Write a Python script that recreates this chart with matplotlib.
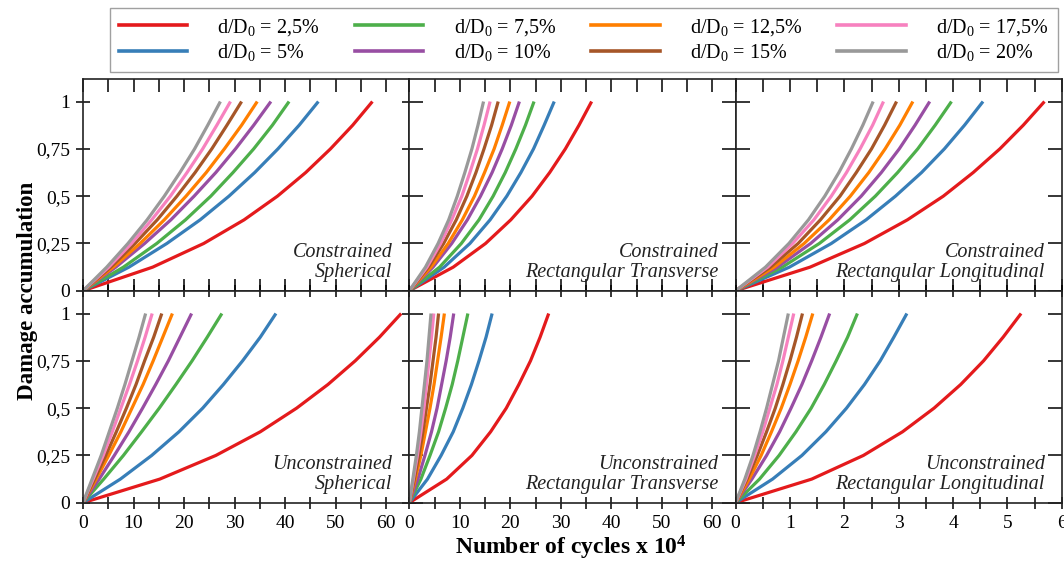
import matplotlib
matplotlib.use('Agg')
import matplotlib.pyplot as plt
from matplotlib.lines import Line2D
from matplotlib.ticker import MultipleLocator, FuncFormatter

plt.rcParams['font.family'] = 'Liberation Serif'
plt.rcParams['mathtext.fontset'] = 'custom'
plt.rcParams['mathtext.rm'] = 'Liberation Serif'
plt.rcParams['mathtext.it'] = 'Liberation Serif:italic'
plt.rcParams['mathtext.bf'] = 'Liberation Serif:bold'

damage = [0, 0.125, 0.25, 0.375, 0.5, 0.625, 0.75, 0.875, 1]
ratios = ['2,5', '5', '7,5', '10', '12,5', '15', '17,5', '20']
colors = ['#e41a1c', '#377eb8', '#4daf4a', '#984ea3',
          '#ff7f00', '#a65628', '#f781bf', '#999999']

# cycles x 10^4, one list per d/D0 (2.5% ... 20%)
cycles_con_sph = [
    [0, 13.8, 23.9, 31.9, 38.5, 44.1, 49.0, 53.4, 57.3],
    [0, 9.1, 16.6, 23.2, 28.9, 34.0, 38.6, 42.8, 46.6],
    [0, 8.0, 14.6, 20.3, 25.3, 29.7, 33.8, 37.5, 40.8],
    [0, 6.5, 12.2, 17.4, 22.0, 26.3, 30.2, 33.8, 37.2],
    [0, 6.0, 11.3, 16.1, 20.4, 24.4, 28.0, 31.4, 34.5],
    [0, 5.5, 10.3, 14.7, 18.6, 22.2, 25.5, 28.5, 31.4],
    [0, 5.1, 9.6, 13.6, 17.3, 20.6, 23.7, 26.5, 29.2],
    [0, 4.7, 8.9, 12.7, 16.1, 19.2, 22.1, 24.7, 27.2],
]
cycles_con_rt = [
    [0, 8.7, 15.1, 20.1, 24.3, 27.8, 30.9, 33.6, 36.1],
    [0, 6.9, 12.0, 16.0, 19.3, 22.1, 24.6, 26.7, 28.7],
    [0, 6.0, 10.3, 13.8, 16.6, 19.0, 21.1, 23.0, 24.7],
    [0, 4.7, 8.4, 11.5, 14.1, 16.4, 18.4, 20.2, 21.8],
    [0, 4.3, 7.7, 10.5, 12.9, 14.9, 16.8, 18.4, 19.9],
    [0, 3.8, 6.8, 9.3, 11.4, 13.2, 14.8, 16.3, 17.6],
    [0, 3.5, 6.2, 8.4, 10.4, 12.0, 13.5, 14.8, 16.0],
    [0, 3.2, 5.7, 7.8, 9.5, 11.0, 12.4, 13.6, 14.7],
]
cycles_con_rl = [
    [0, 1.37, 2.37, 3.16, 3.82, 4.37, 4.86, 5.29, 5.68],
    [0, 0.99, 1.76, 2.40, 2.94, 3.42, 3.84, 4.21, 4.55],
    [0, 0.86, 1.54, 2.10, 2.57, 2.98, 3.35, 3.67, 3.97],
    [0, 0.77, 1.38, 1.88, 2.31, 2.68, 3.01, 3.30, 3.57],
    [0, 0.71, 1.26, 1.72, 2.11, 2.45, 2.75, 3.02, 3.26],
    [0, 0.64, 1.15, 1.56, 1.92, 2.22, 2.50, 2.74, 2.96],
    [0, 0.59, 1.05, 1.44, 1.76, 2.04, 2.29, 2.52, 2.72],
    [0, 0.55, 0.98, 1.34, 1.64, 1.90, 2.13, 2.34, 2.53],
]
cycles_unc_sph = [
    [0, 15.2, 26.3, 35.1, 42.3, 48.5, 53.9, 58.7, 63.0],
    [0, 7.4, 13.6, 19.0, 23.7, 27.8, 31.6, 35.1, 38.2],
    [0, 4.1, 8.0, 11.6, 15.1, 18.4, 21.6, 24.6, 27.5],
    [0, 3.2, 6.2, 9.1, 11.8, 14.4, 16.9, 19.2, 21.5],
    [0, 2.6, 5.1, 7.5, 9.7, 11.9, 13.9, 15.8, 17.7],
    [0, 2.3, 4.5, 6.6, 8.6, 10.5, 12.2, 14.0, 15.6],
    [0, 2.0, 4.0, 5.8, 7.5, 9.2, 10.8, 12.3, 13.7],
    [0, 1.8, 3.6, 5.2, 6.8, 8.3, 9.7, 11.1, 12.4],
]
cycles_unc_rt = [
    [0, 7.4, 12.4, 16.1, 19.2, 21.7, 24.0, 25.9, 27.6],
    [0, 3.6, 6.3, 8.7, 10.6, 12.3, 13.8, 15.2, 16.4],
    [0, 2.3, 4.1, 5.8, 7.2, 8.5, 9.6, 10.6, 11.6],
    [0, 1.7, 3.1, 4.4, 5.5, 6.4, 7.3, 8.1, 8.8],
    [0, 1.2, 2.3, 3.2, 4.1, 4.9, 5.6, 6.3, 6.95],
    [0, 1.0, 1.9, 2.7, 3.4, 4.1, 4.7, 5.3, 5.8],
    [0, 0.8, 1.6, 2.3, 2.9, 3.4, 3.9, 4.4, 4.85],
    [0, 0.7, 1.4, 2.0, 2.5, 3.0, 3.5, 3.9, 4.3],
]
cycles_unc_rl = [
    [0, 1.40, 2.35, 3.07, 3.65, 4.14, 4.56, 4.92, 5.25],
    [0, 0.68, 1.22, 1.66, 2.04, 2.37, 2.66, 2.91, 3.15],
    [0, 0.44, 0.80, 1.11, 1.39, 1.63, 1.85, 2.06, 2.24],
    [0, 0.30, 0.57, 0.81, 1.02, 1.22, 1.40, 1.57, 1.73],
    [0, 0.25, 0.47, 0.66, 0.84, 1.00, 1.15, 1.29, 1.42],
    [0, 0.21, 0.40, 0.57, 0.73, 0.87, 1.00, 1.12, 1.23],
    [0, 0.19, 0.35, 0.50, 0.63, 0.76, 0.87, 0.97, 1.07],
    [0, 0.17, 0.32, 0.45, 0.57, 0.68, 0.79, 0.88, 0.97],
]

panels = [
    [cycles_con_sph, 'Constrained\nSpherical'],
    [cycles_con_rt, 'Constrained\nRectangular Transverse'],
    [cycles_con_rl, 'Constrained\nRectangular Longitudinal'],
    [cycles_unc_sph, 'Unconstrained\nSpherical'],
    [cycles_unc_rt, 'Unconstrained\nRectangular Transverse'],
    [cycles_unc_rl, 'Unconstrained\nRectangular Longitudinal'],
]

fig, axes = plt.subplots(2, 3, figsize=(10.64, 5.63), dpi=100)
fig.subplots_adjust(left=0.078, right=0.998, top=0.86, bottom=0.107,
                    wspace=0, hspace=0)

comma = FuncFormatter(lambda v, p: '{:g}'.format(v).replace('.', ','))

for i, (data, name) in enumerate(panels):
    row = i // 3
    col = i % 3
    ax = axes[row][col]
    for c, x in enumerate(data):
        ax.plot(x, damage, color=colors[c], lw=2.3, solid_capstyle='butt')
    ax.set_ylim(0, 1.12)
    if col == 2:
        ax.set_xlim(0, 6.0)
        ax.xaxis.set_major_locator(MultipleLocator(1))
        ax.xaxis.set_minor_locator(MultipleLocator(0.5))
    else:
        ax.set_xlim(0, 64.6)
        ax.xaxis.set_major_locator(MultipleLocator(10))
        ax.xaxis.set_minor_locator(MultipleLocator(5))
    ax.set_yticks([0, 0.25, 0.5, 0.75, 1])
    ax.yaxis.set_major_formatter(comma)
    ax.tick_params(axis='x', which='both', top=True, bottom=True,
                   direction='inout' if row == 1 else 'in',
                   length=9, width=1.1, labelsize=14, pad=4)
    ax.tick_params(axis='y', which='both', left=True, right=True,
                   direction='inout' if col == 0 else 'in',
                   length=10, width=1.1, labelsize=14, pad=4)
    if row == 0:
        ax.tick_params(axis='x', labelbottom=False)
    if col != 0:
        ax.tick_params(axis='y', labelleft=False)
    for s in ax.spines.values():
        s.set_linewidth(1.2)
        s.set_color('#222222')
    ax.text(0.948, 0.04, name, transform=ax.transAxes, ha='right', va='bottom',
            fontsize=14.5, style='italic', linespacing=1.1, color='#222222')

handles = [Line2D([], [], color=colors[c], lw=2.6) for c in range(8)]
labels = [r'd/D$_0$ = ' + r + '%' for r in ratios]
leg = fig.legend(handles, labels, ncol=4, loc='upper left',
                 bbox_to_anchor=(0.103, 0.986, 0.891, 0.0), mode='expand',
                 borderaxespad=0, fontsize=14.5, handlelength=3.4,
                 handletextpad=1.5, labelspacing=0.2, fancybox=False,
                 borderpad=0.45)
leg.get_frame().set_edgecolor('#888888')
leg.get_frame().set_linewidth(1.0)

fig.text(0.026, 0.483, 'Damage accumulation', rotation=90, ha='center',
         va='center', fontsize=16.5, fontweight='bold')
fig.text(0.537, 0.027, r'Number of cycles x 10$^{\mathbf{4}}$', ha='center',
         va='center', fontsize=17, fontweight='bold')

fig.savefig('out.png', dpi=100)
